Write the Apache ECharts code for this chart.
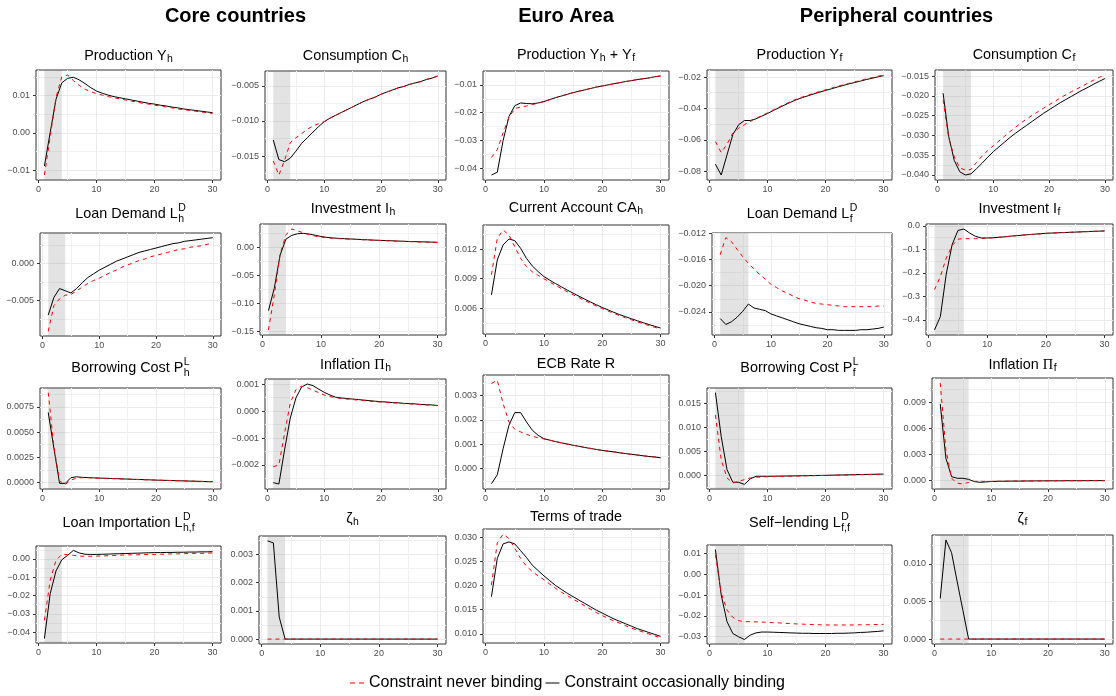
<!DOCTYPE html>
<html><head><meta charset="utf-8">
<script src="https://cdn.jsdelivr.net/npm/echarts@6/dist/echarts.min.js"></script>
<style>html,body{margin:0;padding:0;background:#fff}#c{width:1116px;height:696px}</style>
</head><body><div id="c"></div>
<script>
const periods = [1,2,3,4,5,6,7,8,9,10,11,12,13,14,15,16,17,18,19,20,21,22,23,24,25,26,27,28,29,30];
const coreShade = [1, 4];
const periShade = [1, 6];
const xTicks = [0, 10, 20, 30];
const xMinor = [5, 15, 25];
const legendNames = ['Constraint never binding', 'Constraint occasionally binding'];
const headers = ['Core countries', 'Euro Area', 'Peripheral countries'];

// Production Y_h
const yhBind = [-0.0089,0.0001,0.0090,0.0134,0.0146,0.0149,0.0142,0.0132,0.0121,0.0112,0.0106,0.0101,0.0097,0.0094,0.0091,0.0088,0.0085,0.0082,0.0079,0.0077,0.0074,0.0072,0.0069,0.0067,0.0064,0.0062,0.0060,0.0058,0.0056,0.0054];
const yhNever = [-0.0113,-0.0010,0.0095,0.0150,0.0155,0.0140,0.0127,0.0117,0.0110,0.0105,0.0101,0.0097,0.0094,0.0091,0.0088,0.0085,0.0082,0.0079,0.0077,0.0074,0.0072,0.0069,0.0067,0.0064,0.0062,0.0060,0.0058,0.0056,0.0054,0.0052];
const yhTicks = [-0.01, 0, 0.01];
// Consumption C_h
const chBind = [-0.0127,-0.0155,-0.0158,-0.0153,-0.0143,-0.0132,-0.0124,-0.0116,-0.0108,-0.0101,-0.0096,-0.0092,-0.0088,-0.0084,-0.0080,-0.0076,-0.0072,-0.0069,-0.0066,-0.0062,-0.0059,-0.0056,-0.0053,-0.0051,-0.0048,-0.0046,-0.0044,-0.0041,-0.0039,-0.0036];
const chNever = [-0.0157,-0.0177,-0.0156,-0.0131,-0.0124,-0.0118,-0.0112,-0.0107,-0.0104,-0.0101,-0.0096,-0.0092,-0.0088,-0.0084,-0.0080,-0.0076,-0.0072,-0.0069,-0.0066,-0.0062,-0.0059,-0.0056,-0.0053,-0.0051,-0.0048,-0.0046,-0.0044,-0.0041,-0.0039,-0.0036];
const chTicks = [-0.015, -0.010, -0.005];
// Production Y_h + Y_f
const yeaBind = [-0.0424,-0.0414,-0.0300,-0.0214,-0.0175,-0.0165,-0.0167,-0.0168,-0.0165,-0.0160,-0.0153,-0.0146,-0.0140,-0.0134,-0.0128,-0.0123,-0.0118,-0.0113,-0.0108,-0.0104,-0.0100,-0.0096,-0.0092,-0.0088,-0.0085,-0.0081,-0.0078,-0.0075,-0.0071,-0.0068];
const yeaNever = [-0.0361,-0.0333,-0.0272,-0.0217,-0.0185,-0.0180,-0.0176,-0.0171,-0.0166,-0.0160,-0.0153,-0.0146,-0.0140,-0.0134,-0.0128,-0.0123,-0.0118,-0.0113,-0.0108,-0.0104,-0.0100,-0.0096,-0.0092,-0.0088,-0.0085,-0.0081,-0.0078,-0.0075,-0.0071,-0.0068];
const yeaTicks = [-0.04, -0.03, -0.02, -0.01];
// Production Y_f
const yfBind = [-0.0755,-0.0824,-0.0696,-0.0568,-0.0504,-0.0477,-0.0477,-0.0466,-0.0449,-0.0432,-0.0413,-0.0395,-0.0377,-0.0360,-0.0344,-0.0331,-0.0319,-0.0307,-0.0296,-0.0285,-0.0275,-0.0264,-0.0254,-0.0244,-0.0235,-0.0226,-0.0216,-0.0208,-0.0199,-0.0191];
const yfNever = [-0.0611,-0.0681,-0.0628,-0.0557,-0.0526,-0.0504,-0.0483,-0.0463,-0.0446,-0.0428,-0.0409,-0.0391,-0.0373,-0.0356,-0.0340,-0.0327,-0.0315,-0.0303,-0.0292,-0.0281,-0.0271,-0.0260,-0.0250,-0.0240,-0.0231,-0.0222,-0.0212,-0.0204,-0.0195,-0.0187];
const yfTicks = [-0.08, -0.06, -0.04, -0.02];
// Consumption C_f
const cfBind = [-0.0193,-0.0302,-0.0363,-0.0392,-0.0400,-0.0397,-0.0384,-0.0370,-0.0355,-0.0341,-0.0329,-0.0317,-0.0305,-0.0294,-0.0284,-0.0274,-0.0264,-0.0254,-0.0244,-0.0235,-0.0226,-0.0217,-0.0209,-0.0201,-0.0193,-0.0185,-0.0178,-0.0170,-0.0163,-0.0156];
const cfNever = [-0.0210,-0.0306,-0.0354,-0.0382,-0.0388,-0.0386,-0.0368,-0.0352,-0.0338,-0.0326,-0.0314,-0.0302,-0.0290,-0.0279,-0.0268,-0.0258,-0.0249,-0.0240,-0.0231,-0.0222,-0.0214,-0.0205,-0.0197,-0.0189,-0.0182,-0.0175,-0.0167,-0.0160,-0.0153,-0.0147];
const cfTicks = [-0.040, -0.035, -0.030, -0.025, -0.020, -0.015];
// Loan Demand L_h^D
const ldhBind = [-0.0070,-0.0046,-0.0034,-0.0037,-0.0040,-0.0034,-0.0026,-0.0019,-0.0014,-0.0009,-0.0005,-0.0001,0.0003,0.0006,0.0009,0.0012,0.0015,0.0017,0.0019,0.0021,0.0023,0.0025,0.0027,0.0028,0.0030,0.0031,0.0032,0.0033,0.0034,0.0035];
const ldhNever = [-0.0092,-0.0057,-0.0048,-0.0043,-0.0042,-0.0037,-0.0032,-0.0027,-0.0023,-0.0020,-0.0016,-0.0012,-0.0009,-0.0005,-0.0002,0.0001,0.0004,0.0006,0.0009,0.0011,0.0013,0.0015,0.0017,0.0019,0.0020,0.0022,0.0023,0.0024,0.0026,0.0027];
const ldhTicks = [-0.005, 0];
// Investment I_h
const ihBind = [-0.1127,-0.0730,-0.0140,0.0142,0.0208,0.0237,0.0243,0.0231,0.0210,0.0188,0.0172,0.0162,0.0155,0.0149,0.0144,0.0139,0.0134,0.0129,0.0124,0.0120,0.0116,0.0112,0.0108,0.0104,0.0100,0.0097,0.0094,0.0091,0.0088,0.0085];
const ihNever = [-0.1470,-0.0848,-0.0125,0.0220,0.0320,0.0290,0.0250,0.0220,0.0195,0.0178,0.0165,0.0157,0.0150,0.0145,0.0140,0.0135,0.0130,0.0126,0.0121,0.0117,0.0113,0.0109,0.0105,0.0101,0.0097,0.0094,0.0091,0.0088,0.0085,0.0082];
const ihTicks = [-0.15, -0.10, -0.05, 0];
// Current Account CA_h
const cahBind = [0.00736,0.01092,0.01244,0.01305,0.01288,0.01210,0.01108,0.01030,0.00973,0.00922,0.00885,0.00850,0.00817,0.00784,0.00753,0.00722,0.00692,0.00662,0.00634,0.00607,0.00582,0.00557,0.00534,0.00513,0.00492,0.00472,0.00452,0.00433,0.00415,0.00397];
const cahNever = [0.00940,0.01312,0.01397,0.01346,0.01227,0.01108,0.01024,0.00970,0.00935,0.00900,0.00866,0.00832,0.00799,0.00767,0.00737,0.00707,0.00678,0.00649,0.00621,0.00595,0.00570,0.00546,0.00523,0.00502,0.00481,0.00461,0.00442,0.00423,0.00405,0.00387];
const cahTicks = [0.006, 0.009, 0.012];
// Loan Demand L_f^D
const ldfBind = [-0.0250,-0.0259,-0.0255,-0.0248,-0.0239,-0.0228,-0.0234,-0.0236,-0.0238,-0.0243,-0.0246,-0.0249,-0.0252,-0.0255,-0.0258,-0.0260,-0.0262,-0.0264,-0.0265,-0.0267,-0.0267,-0.0268,-0.0268,-0.0268,-0.0268,-0.0267,-0.0267,-0.0266,-0.0265,-0.0263];
const ldfNever = [-0.0153,-0.0127,-0.0133,-0.0145,-0.0156,-0.0166,-0.0175,-0.0183,-0.0190,-0.0198,-0.0203,-0.0208,-0.0212,-0.0216,-0.0220,-0.0222,-0.0225,-0.0227,-0.0228,-0.0229,-0.0230,-0.0231,-0.0232,-0.0232,-0.0232,-0.0232,-0.0232,-0.0232,-0.0231,-0.0231];
const ldfTicks = [-0.024, -0.020, -0.016, -0.012];
// Investment I_f
const ifBind = [-0.443,-0.386,-0.206,-0.081,-0.020,-0.014,-0.031,-0.045,-0.052,-0.052,-0.051,-0.049,-0.047,-0.044,-0.042,-0.040,-0.038,-0.036,-0.034,-0.032,-0.031,-0.030,-0.029,-0.028,-0.027,-0.026,-0.025,-0.024,-0.023,-0.022];
const ifNever = [-0.272,-0.216,-0.138,-0.085,-0.057,-0.055,-0.055,-0.055,-0.054,-0.053,-0.051,-0.049,-0.047,-0.045,-0.042,-0.040,-0.038,-0.036,-0.035,-0.033,-0.032,-0.030,-0.029,-0.028,-0.027,-0.026,-0.025,-0.024,-0.023,-0.022];
const ifTicks = [-0.4, -0.3, -0.2, -0.1, 0];
// Borrowing Cost P_h^L
const plhBind = [0.00697,0.00340,-0.00010,-0.00010,0.00047,0.00056,0.00050,0.00048,0.00045,0.00043,0.00041,0.00039,0.00037,0.00035,0.00033,0.00031,0.00029,0.00027,0.00025,0.00023,0.00021,0.00020,0.00018,0.00016,0.00015,0.00013,0.00012,0.00010,0.00008,0.00007];
const plhNever = [0.00893,0.00355,0.00013,-0.00020,0.00023,0.00043,0.00047,0.00046,0.00044,0.00042,0.00040,0.00038,0.00036,0.00034,0.00032,0.00030,0.00028,0.00026,0.00024,0.00023,0.00021,0.00019,0.00018,0.00016,0.00014,0.00013,0.00011,0.00010,0.00008,0.00007];
const plhTicks = [0, 0.0025, 0.005, 0.0075];
// Inflation Pi_h
const pihBind = [-0.00266,-0.00271,-0.00144,-0.00026,0.00049,0.00090,0.00101,0.00095,0.00082,0.00070,0.00060,0.00052,0.00049,0.00047,0.00045,0.00043,0.00041,0.00039,0.00037,0.00035,0.00034,0.00032,0.00031,0.00029,0.00028,0.00027,0.00025,0.00024,0.00023,0.00021];
const pihNever = [-0.00207,-0.00200,-0.00082,0.00030,0.00080,0.00093,0.00087,0.00078,0.00069,0.00060,0.00054,0.00050,0.00047,0.00045,0.00043,0.00041,0.00039,0.00037,0.00035,0.00034,0.00032,0.00031,0.00030,0.00028,0.00027,0.00026,0.00024,0.00023,0.00022,0.00020];
const pihTicks = [-0.002, -0.001, 0, 0.001];
// ECB Rate R
const rBind = [-0.00062,-0.00025,0.00082,0.00178,0.00230,0.00230,0.00192,0.00158,0.00137,0.00123,0.00117,0.00111,0.00106,0.00101,0.00096,0.00092,0.00087,0.00083,0.00079,0.00075,0.00072,0.00069,0.00065,0.00062,0.00059,0.00056,0.00053,0.00050,0.00048,0.00045];
const rNever = [0.00349,0.00363,0.00267,0.00192,0.00162,0.00151,0.00141,0.00133,0.00127,0.00122,0.00117,0.00111,0.00106,0.00101,0.00096,0.00092,0.00087,0.00083,0.00079,0.00075,0.00072,0.00069,0.00065,0.00062,0.00059,0.00056,0.00053,0.00050,0.00048,0.00045];
const rTicks = [0, 0.001, 0.002, 0.003];
// Borrowing Cost P_f^L
const plfBind = [0.0173,0.0081,0.0012,-0.00145,-0.00145,-0.0019,-0.00076,-0.00020,-0.00020,-0.00020,-0.00019,-0.00017,-0.00015,-0.00013,-0.00011,-0.00009,-0.00007,-0.00005,-0.00002,0.00000,0.00003,0.00006,0.00008,0.00011,0.00014,0.00016,0.00019,0.00021,0.00024,0.00026];
const plfNever = [0.0126,0.00325,-0.00055,-0.0016,-0.00125,-0.0009,-0.00055,-0.00040,-0.00035,-0.00030,-0.00027,-0.00024,-0.00021,-0.00018,-0.00015,-0.00012,-0.00009,-0.00007,-0.00005,-0.00002,0.00000,0.00003,0.00006,0.00008,0.00011,0.00014,0.00016,0.00019,0.00021,0.00024];
const plfTicks = [0, 0.005, 0.010, 0.015];
// Inflation Pi_f
const pifBind = [0.0088,0.00257,0.00046,0.00027,0.00027,0.00015,-0.00011,-0.00019,-0.00015,-0.00010,-0.00008,-0.00007,-0.00006,-0.00005,-0.00005,-0.00004,-0.00004,-0.00003,-0.00003,-0.00002,-0.00002,-0.00002,-0.00001,-0.00001,-0.00001,-0.00001,0,0,0,0];
const pifNever = [0.0112,0.00353,0.00027,-0.00030,-0.00038,-0.00020,-0.00008,-0.00008,-0.00009,-0.00009,-0.00008,-0.00007,-0.00006,-0.00005,-0.00005,-0.00004,-0.00004,-0.00003,-0.00003,-0.00002,-0.00002,-0.00002,-0.00001,-0.00001,-0.00001,-0.00001,0,0,0,0];
const pifTicks = [0, 0.003, 0.006, 0.009];
// Loan Importation L_{h,f}^D
const lhfBind = [-0.0435,-0.0189,-0.0065,-0.0004,0.0020,0.0047,0.0033,0.0026,0.0025,0.0025,0.0026,0.0027,0.0028,0.0029,0.0030,0.0031,0.0032,0.0033,0.0034,0.0035,0.0035,0.0036,0.0036,0.0037,0.0037,0.0038,0.0038,0.0039,0.0039,0.0040];
const lhfNever = [-0.0335,-0.0116,-0.0007,0.0025,0.0024,0.0020,0.0016,0.0015,0.0015,0.0016,0.0017,0.0018,0.0019,0.0021,0.0022,0.0023,0.0023,0.0024,0.0025,0.0025,0.0026,0.0027,0.0028,0.0028,0.0029,0.0030,0.0031,0.0031,0.0032,0.0033];
const lhfTicks = [-0.04, -0.03, -0.02, -0.01, 0];
// zeta_h
const zhBind = [0.00348,0.00341,0.00078,0,0,0,0,0,0,0,0,0,0,0,0,0,0,0,0,0,0,0,0,0,0,0,0,0,0,0];
const zhNever = [0,0,0,0,0,0,0,0,0,0,0,0,0,0,0,0,0,0,0,0,0,0,0,0,0,0,0,0,0,0];
const zhTicks = [0, 0.001, 0.002, 0.003];
// Terms of trade
const totBind = [0.0177,0.0256,0.0286,0.0290,0.0286,0.0272,0.0258,0.0242,0.0231,0.0220,0.0210,0.0200,0.0192,0.0184,0.0177,0.0170,0.0163,0.0156,0.0149,0.0143,0.0137,0.0131,0.0126,0.0121,0.0116,0.0111,0.0107,0.0103,0.0099,0.0095];
const totNever = [0.0201,0.0288,0.0306,0.0297,0.0277,0.0256,0.0240,0.0229,0.0220,0.0212,0.0203,0.0194,0.0186,0.0179,0.0172,0.0165,0.0158,0.0151,0.0144,0.0138,0.0132,0.0127,0.0122,0.0117,0.0112,0.0108,0.0104,0.0100,0.0096,0.0092];
const totTicks = [0.010, 0.015, 0.020, 0.025, 0.030];
// Self-lending L_{f,f}^D
const lffBind = [0.0120,-0.0099,-0.0228,-0.0285,-0.0301,-0.0314,-0.0293,-0.0282,-0.0278,-0.0278,-0.0279,-0.0280,-0.0281,-0.0282,-0.0283,-0.0284,-0.0284,-0.0285,-0.0285,-0.0285,-0.0285,-0.0284,-0.0284,-0.0283,-0.0282,-0.0280,-0.0279,-0.0277,-0.0275,-0.0272];
const lffNever = [0.0095,-0.0090,-0.0172,-0.0207,-0.0223,-0.0228,-0.0228,-0.0229,-0.0230,-0.0231,-0.0233,-0.0234,-0.0236,-0.0237,-0.0239,-0.0240,-0.0241,-0.0242,-0.0243,-0.0244,-0.0244,-0.0244,-0.0244,-0.0244,-0.0244,-0.0243,-0.0243,-0.0242,-0.0242,-0.0241];
const lffTicks = [-0.03, -0.02, -0.01, 0, 0.01];
// zeta_f
const zfBind = [0.0054,0.0132,0.0115,0.0076,0.0038,0,0,0,0,0,0,0,0,0,0,0,0,0,0,0,0,0,0,0,0,0,0,0,0,0];
const zfNever = [0,0,0,0,0,0,0,0,0,0,0,0,0,0,0,0,0,0,0,0,0,0,0,0,0,0,0,0,0,0];
const zfTicks = [0, 0.005, 0.010];

const FONT = '"Liberation Sans", Arial, Helvetica, sans-serif';
const SERIF = '"Liberation Serif", "DejaVu Serif", serif';

const panels = [
  {title:['Production Y',['h']], bind:yhBind, never:yhNever, ticks:yhTicks, dec:2, shade:coreShade},
  {title:['Consumption C',['h']], bind:chBind, never:chNever, ticks:chTicks, dec:3, shade:coreShade},
  {title:['Production Y',['h'],' + Y',['f']], bind:yeaBind, never:yeaNever, ticks:yeaTicks, dec:2, shade:null},
  {title:['Production Y',['f']], bind:yfBind, never:yfNever, ticks:yfTicks, dec:2, shade:periShade},
  {title:['Consumption C',['f']], bind:cfBind, never:cfNever, ticks:cfTicks, dec:3, shade:periShade},
  {title:['Loan Demand L',['h','D']], bind:ldhBind, never:ldhNever, ticks:ldhTicks, dec:3, shade:coreShade},
  {title:['Investment I',['h']], bind:ihBind, never:ihNever, ticks:ihTicks, dec:2, shade:coreShade},
  {title:['Current Account CA',['h']], bind:cahBind, never:cahNever, ticks:cahTicks, dec:3, shade:null},
  {title:['Loan Demand L',['f','D']], bind:ldfBind, never:ldfNever, ticks:ldfTicks, dec:3, shade:periShade},
  {title:['Investment I',['f']], bind:ifBind, never:ifNever, ticks:ifTicks, dec:1, shade:periShade},
  {title:['Borrowing Cost P',['h','L']], bind:plhBind, never:plhNever, ticks:plhTicks, dec:4, shade:coreShade},
  {title:['Inflation ',{g:'\u03A0',f:SERIF},['h']], bind:pihBind, never:pihNever, ticks:pihTicks, dec:3, shade:coreShade},
  {title:['ECB Rate R'], bind:rBind, never:rNever, ticks:rTicks, dec:3, shade:null},
  {title:['Borrowing Cost P',['f','L']], bind:plfBind, never:plfNever, ticks:plfTicks, dec:3, shade:periShade},
  {title:['Inflation ',{g:'\u03A0',f:SERIF},['f']], bind:pifBind, never:pifNever, ticks:pifTicks, dec:3, shade:periShade},
  {title:['Loan Importation L',['h,f','D']], bind:lhfBind, never:lhfNever, ticks:lhfTicks, dec:2, shade:coreShade},
  {title:['\u03B6',['h']], bind:zhBind, never:zhNever, ticks:zhTicks, dec:3, shade:coreShade},
  {title:['Terms of trade'], bind:totBind, never:totNever, ticks:totTicks, dec:3, shade:null},
  {title:['Self\u2212lending L',['f,f','D']], bind:lffBind, never:lffNever, ticks:lffTicks, dec:2, shade:periShade},
  {title:['\u03B6',['f']], bind:zfBind, never:zfNever, ticks:zfTicks, dec:3, shade:periShade}
];

// layout: panel frames [left, top, right, bottom] and title baselines
const rects = [
  [36,70,221,180],[265,71,446,180],[483,71,669,180],[707,70,892,180],[935,70,1113,180],
  [40,233,221,336],[260,224,446,335],[483,225,669,334],[712,233,892,335],[926,224,1113,335],
  [40,388,221,489],[265,379,446,489],[483,375,669,489],[707,388,892,489],[932,378,1113,489],
  [36,546,221,643],[259,536,446,644],[483,529,669,643],[707,545,892,644],[932,535,1113,644]
];
const titleBase = [59.5,59.5,58.5,58.5,58.5, 217.5,212.5,211.5,217.5,212.5, 371.5,368.5,367.5,371.5,368.5, 526.5,522.5,520.5,526.5,522.5];
const headerPos = [[235.5,21.5],[566,21.5],[896.5,21.5]];

const XMIN = -0.45, XMAX = 31.45;
const mctx = document.createElement('canvas').getContext('2d');
function setFont(size, weight, fam){ mctx.font = (weight||'normal') + ' ' + size + 'px ' + (fam||FONT); }
function textW(t, size, weight, fam){ setFont(size, weight, fam); mctx.textBaseline='alphabetic'; return mctx.measureText(t).width; }
function midOffset(size, weight, fam){
  setFont(size, weight, fam);
  mctx.textBaseline = 'middle';
  const m = mctx.measureText('Hg');
  mctx.textBaseline = 'alphabetic';
  if (typeof m.alphabeticBaseline === 'number' && isFinite(m.alphabeticBaseline) && m.alphabeticBaseline !== 0) return Math.abs(m.alphabeticBaseline);
  const m2 = mctx.measureText('Hg');
  if (m2.fontBoundingBoxAscent) return (m2.fontBoundingBoxAscent - m2.fontBoundingBoxDescent)/2;
  return size*0.35;
}
const graphics = [];
function textEl(t, x, base, size, weight, fam){
  return {type:'text', x:x, y:base - midOffset(size, weight, fam), silent:true, z:10,
    style:{text:t, fontSize:size, fontWeight:weight||'normal', fontFamily:fam||FONT, fill:'#000',
      align:'left', verticalAlign:'middle', textAlign:'left', textVerticalAlign:'middle'}};
}
function addTitle(spec, cx, base){
  const MAIN = 14.4, SCR = 10.5;
  const parts = []; let w = 0;
  spec.forEach(s => {
    if (typeof s === 'string') { parts.push({t:s, x:w, size:MAIN, dy:0}); w += textW(s, MAIN); }
    else if (s.g) { parts.push({t:s.g, x:w, size:MAIN, dy:0, fam:s.f}); w += textW(s.g, MAIN, 'normal', s.f); }
    else {
      const sub = s[0], sup = s[1];
      const w1 = textW(sub, SCR), w2 = sup ? textW(sup, SCR) : 0;
      parts.push({t:sub, x:w+0.5, size:SCR, dy: sup ? 4 : 2.5});
      if (sup) parts.push({t:sup, x:w+0.5, size:SCR, dy:-7});
      w += Math.max(w1, w2) + 0.5;
    }
  });
  const x0 = cx - w/2;
  parts.forEach(p => graphics.push(textEl(p.t, x0 + p.x, base + p.dy, p.size, 'normal', p.fam)));
}
headers.forEach((h, i) => {
  const w = textW(h, 20, 'bold');
  graphics.push(textEl(h, headerPos[i][0] - w/2, headerPos[i][1], 20, 'bold'));
});

const grids = [], xAxes = [], yAxes = [], series = [];
const fmt = (d) => (v) => v.toFixed(d).replace('-', '\u2212');
panels.forEach((p, i) => {
  const [L, T, R, B] = rects[i];
  addTitle(p.title, (L + R)/2, titleBase[i]);
  grids.push({left:L, top:T, width:R-L, height:B-T, show:true, borderColor:'#333333', borderWidth:1, backgroundColor:'#ffffff', containLabel:false});
  const all = p.bind.concat(p.never);
  const lo = Math.min(...all), hi = Math.max(...all), pad = (hi - lo) * 0.05;
  const ymin = lo - pad, ymax = hi + pad;
  const step = p.ticks[1] - p.ticks[0];
  const yMinor = [];
  for (let k = -1; k <= p.ticks.length; k++) {
    const v = +(p.ticks[0] + (k + 0.5) * step).toFixed(10);
    if (v > ymin && v < ymax) yMinor.push(v);
  }
  const base = {type:'value', gridIndex:i, axisLine:{show:false, onZero:false}};
  xAxes.push(Object.assign({}, base, {min:XMIN, max:XMAX, position:'bottom',
    axisTick:{show:false, customValues:xMinor}, axisLabel:{show:false},
    splitLine:{show:true, lineStyle:{color:'#F1F1F1', width:1}}}));
  xAxes.push(Object.assign({}, base, {min:XMIN, max:XMAX, position:'bottom',
    axisTick:{show:true, length:3, lineStyle:{color:'#333333', width:1}, customValues:xTicks},
    axisLabel:{customValues:xTicks, margin:5, color:'#4D4D4D', fontSize:9, fontFamily:FONT},
    splitLine:{show:true, lineStyle:{color:'#EBEBEB', width:1}}}));
  yAxes.push(Object.assign({}, base, {min:ymin, max:ymax, position:'left',
    axisTick:{show:false, customValues:yMinor}, axisLabel:{show:false},
    splitLine:{show:true, lineStyle:{color:'#F1F1F1', width:1}}}));
  yAxes.push(Object.assign({}, base, {min:ymin, max:ymax, position:'left',
    axisTick:{show:true, length:3, lineStyle:{color:'#333333', width:1}, customValues:p.ticks},
    axisLabel:{customValues:p.ticks, margin:6, color:'#4D4D4D', fontSize:9, fontFamily:FONT, formatter:fmt(p.dec)},
    splitLine:{show:true, lineStyle:{color:'#EBEBEB', width:1}}}));
  const xi = 2*i + 1, yi = 2*i + 1;
  if (p.shade) {
    series.push({type:'line', name:'shade'+i, xAxisIndex:xi, yAxisIndex:yi, data:[], z:1, silent:true,
      markArea:{silent:true, itemStyle:{color:'rgba(127,127,127,0.22)'}, data:[[{xAxis:p.shade[0]},{xAxis:p.shade[1]}]]}});
  }
  series.push({type:'line', name:legendNames[1], xAxisIndex:xi, yAxisIndex:yi, z:2, silent:true,
    symbol:'none', showSymbol:false, data:periods.map((t,k)=>[t, p.bind[k]]),
    lineStyle:{color:'#000000', width:1}, itemStyle:{color:'#000000'}});
  series.push({type:'line', name:legendNames[0], xAxisIndex:xi, yAxisIndex:yi, z:3, silent:true,
    symbol:'none', showSymbol:false, data:periods.map((t,k)=>[t, p.never[k]]),
    lineStyle:{color:'#FF0000', width:1, type:[4,4]}, itemStyle:{color:'#FF0000'}});
});

const chart = echarts.init(document.getElementById('c'), null, {renderer:'canvas'});
chart.setOption({
  animation:false,
  backgroundColor:'#ffffff',
  grid:grids, xAxis:xAxes, yAxis:yAxes, series:series,
  legend:{
    data:[
      {name:legendNames[0], icon:'path://M0,0h5v1h-5zM9,0h5v1h-5z'},
      {name:legendNames[1], icon:'path://M0,0h14v1h-14z'}
    ],
    left:350, top:675, padding:0, itemWidth:14, itemHeight:1, itemGap:3, selectedMode:false,
    textStyle:{fontSize:16, color:'#000000', fontFamily:FONT}},
  graphic:graphics
});
</script>
</body></html>
